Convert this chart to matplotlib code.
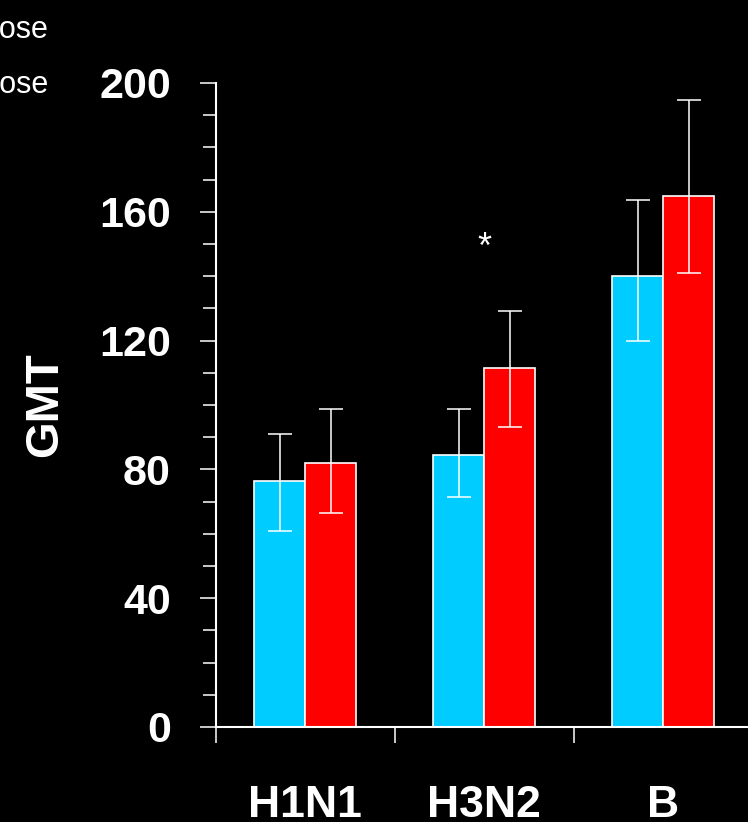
import numpy as np
import matplotlib
matplotlib.use("Agg")
import matplotlib.pyplot as plt
from matplotlib.ticker import MultipleLocator, FixedLocator, NullFormatter

plt.rcParams['font.family'] = ['Liberation Sans', 'DejaVu Sans']

strains = ['H1N1', 'H3N2', 'B']
legend_names = ['High dose', 'Standard dose']

# GMT with lower / upper confidence limits
cyan_gmt = [76.5, 84.6, 140.0]
cyan_low = [61.0, 71.5, 119.8]
cyan_high = [91.1, 98.6, 163.6]

red_gmt = [82.1, 111.4, 164.9]
red_low = [66.3, 93.0, 140.9]
red_high = [98.6, 129.1, 194.7]

star_strain = 1
star_y = 148.5

fig = plt.figure(figsize=(7.48, 8.22), dpi=100, facecolor='black')
ax = fig.add_axes([0.2888, 0.1156, 0.7112, 0.7835], facecolor='black')

x = np.arange(len(strains))
w = 0.285
cyan = '#00CCFF'
red = '#FF0000'

ax.bar(x - w/2, cyan_gmt, w, color=cyan, edgecolor='white', linewidth=1.2, zorder=2)
ax.bar(x + w/2, red_gmt, w, color=red, edgecolor='white', linewidth=1.2, zorder=2)

cyan_err = [np.array(cyan_gmt) - np.array(cyan_low), np.array(cyan_high) - np.array(cyan_gmt)]
red_err = [np.array(red_gmt) - np.array(red_low), np.array(red_high) - np.array(red_gmt)]
ax.errorbar(x - w/2, cyan_gmt, yerr=cyan_err, fmt='none', ecolor='white',
            elinewidth=1.1, capsize=8.3, capthick=1.1, zorder=3)
ax.errorbar(x + w/2, red_gmt, yerr=red_err, fmt='none', ecolor='white',
            elinewidth=1.1, capsize=8.3, capthick=1.1, zorder=3)

ax.text(star_strain, star_y, '*', color='white', fontsize=26, ha='center', va='center')

ax.set_xlim(-0.5, 2.475)
ax.set_ylim(0, 200)

for s in ['top', 'right']:
    ax.spines[s].set_visible(False)
for s in ['left', 'bottom']:
    ax.spines[s].set_color('white')
    ax.spines[s].set_linewidth(1.5)

# y ticks
ax.yaxis.set_major_locator(MultipleLocator(40))
ax.yaxis.set_minor_locator(MultipleLocator(10))
ax.tick_params(axis='y', which='major', colors='white', length=11.5, width=1.1,
               pad=21, labelsize=31)
ax.tick_params(axis='y', which='minor', colors='white', length=9.4, width=1.1)
for lab in ax.get_yticklabels():
    lab.set_fontweight('bold')

# x ticks: boundaries as major ticks, names as minor labels
ax.xaxis.set_major_locator(FixedLocator([-0.5, 0.5, 1.5, 2.5]))
ax.xaxis.set_major_formatter(NullFormatter())
ax.xaxis.set_minor_locator(FixedLocator(x))
ax.set_xticklabels(strains, minor=True)
ax.tick_params(axis='x', which='major', colors='white', length=11.5, width=1.1)
ax.tick_params(axis='x', which='minor', colors='white', length=0, pad=42, labelsize=32)
for lab in ax.get_xticklabels(minor=True):
    lab.set_fontweight('bold')

ax.set_ylabel('GMT', color='white', fontsize=34, fontweight='bold')
ax.yaxis.set_label_coords(-0.280, 0.5)

# legend text (cut off at the left edge)
fig.text(48/748, 1 - 30/822, legend_names[0], color='white', fontsize=22, ha='right', va='center')
fig.text(48/748, 1 - 85/822, legend_names[1], color='white', fontsize=22, ha='right', va='center')

fig.savefig('out.png', dpi=100, facecolor='black')
